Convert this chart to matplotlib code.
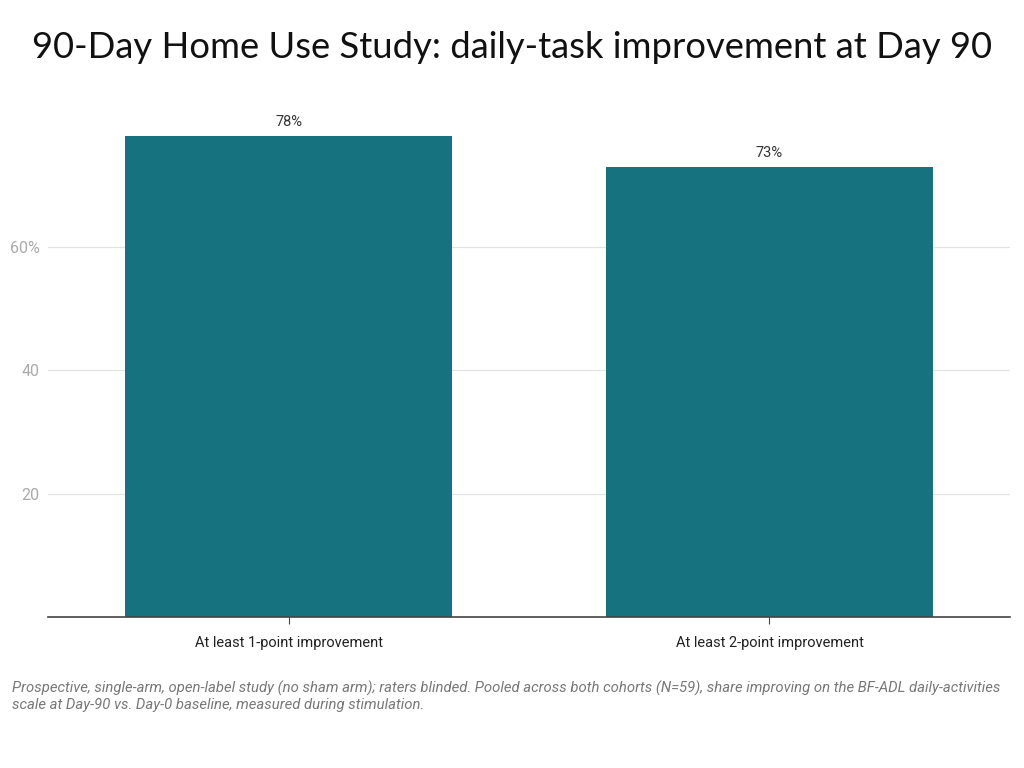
import matplotlib
matplotlib.use("Agg")
import matplotlib.pyplot as plt

categories = ["At least 1-point improvement", "At least 2-point improvement"]
values = [78, 73]
yticks = [20, 40, 60]
ytick_labels = ["20", "40", "60%"]

title = "90-Day Home Use Study: daily-task improvement at Day 90"
caption = ("Prospective, single-arm, open-label study (no sham arm); raters blinded. "
           "Pooled across both cohorts (N=59), share improving on the BF-ADL daily-activities\n"
           "scale at Day-90 vs. Day-0 baseline, measured during stimulation.")

bar_color = "#177280"

fig = plt.figure(figsize=(10.24, 7.68), dpi=100)
ax = fig.add_axes([0.0469, 0.1966, 0.9394, 0.6732])

x = range(len(categories))
bars = ax.bar(x, values, width=0.68, color=bar_color, zorder=2)
for b, v in zip(bars, values):
    ax.annotate(f"{v}%", (b.get_x() + b.get_width() / 2, v), xytext=(0, 5),
                textcoords="offset points", ha="center", va="bottom",
                fontsize=10.5, color="#333333", family="Roboto")

ax.set_xlim(-0.5, 1.5)
ax.set_ylim(0, 83.8)
ax.set_yticks(yticks)
ax.set_yticklabels(ytick_labels)
ax.set_xticks(list(x))
ax.set_xticklabels(categories)
ax.grid(axis="y", color="#e3e3e3", linewidth=0.9, zorder=0)
for s in ["top", "right", "left"]:
    ax.spines[s].set_visible(False)
ax.spines["bottom"].set_color("#444444")
ax.spines["bottom"].set_linewidth(1.2)
ax.tick_params(axis="y", length=0, pad=6, labelsize=11.5, labelcolor="#aaaaaa")
ax.tick_params(axis="x", length=5, width=0.8, color="#444444", pad=9,
               labelsize=10.5, labelcolor="#222222")
for t in ax.get_xticklabels() + ax.get_yticklabels():
    t.set_family("Roboto")

fig.text(0.5, 0.938, title, ha="center", va="center", fontsize=26.2,
         family="Lato", color="#111111")
fig.text(0.0117, 0.1135, caption, ha="left", va="top", fontsize=10.7,
         family="Roboto", style="italic", color="#777777", linespacing=1.15)

fig.savefig("out.png", dpi=100)
